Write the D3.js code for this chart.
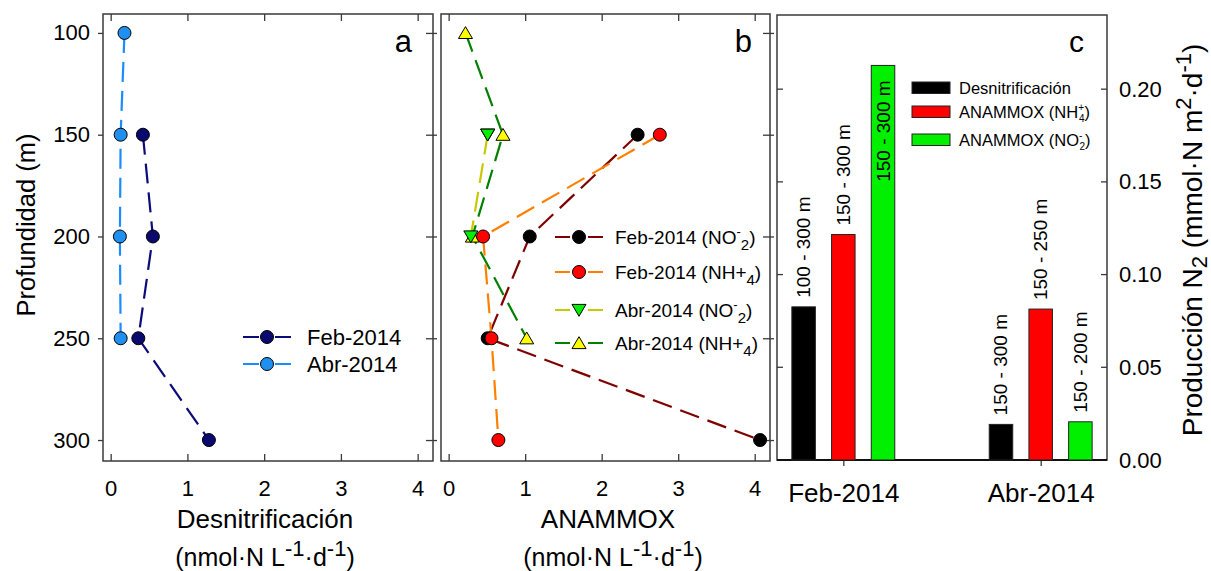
<!DOCTYPE html>
<html>
<head>
<meta charset="utf-8">
<script src="https://cdn.jsdelivr.net/npm/d3@7/dist/d3.min.js"></script>
<style>
  html, body { margin: 0; padding: 0; background: #fff; }
  svg { display: block; font-family: "Liberation Sans", Arial, sans-serif; }
  text { fill: #000; }
</style>
</head>
<body>
<svg id="fig" width="1211" height="571"></svg>
<script>
// ---- Depth profiles (m) ----
const profDepths = [100, 150, 200, 250, 300];

// Panel a: denitrification rates (nmol N L-1 d-1)
const desnFebDepths = [150, 200, 250, 300];
const desnFeb = [0.42, 0.55, 0.36, 1.28];
const desnAbrDepths = [100, 150, 200, 250];
const desnAbr = [0.18, 0.13, 0.12, 0.13];

// Panel b: anammox rates (nmol N L-1 d-1)
const anxFebDepths = [150, 200, 250, 300];
const anxFebNO2 = [2.47, 1.06, 0.51, 4.07];
const anxFebNH4 = [2.76, 0.45, 0.56, 0.65];
const anxAbrNO2Depths = [150, 200];
const anxAbrNO2 = [0.51, 0.29];
const anxAbrNH4Depths = [100, 150, 200, 250];
const anxAbrNH4 = [0.22, 0.71, 0.31, 1.02];

// Panel c: integrated N2 production (mmol N m-2 d-1)
const campaigns = ["Feb-2014", "Abr-2014"];
const procesos = ["desn", "anxNH4", "anxNO2"];
const prodFeb = [0.0826, 0.1216, 0.2128];
const prodAbr = [0.0192, 0.0814, 0.0206];
const rangosFeb = ["100 - 300 m", "150 - 300 m", "150 - 300 m"];
const rangosAbr = ["150 - 300 m", "150 - 250 m", "150 - 200 m"];

const rateTicks = [0, 1, 2, 3, 4];
const prodTicks = [0, 0.05, 0.10, 0.15, 0.20];

const svg = d3.select("#fig");
const FRAME = "#3a3a3a";
const DASH = "20,9";

// shared depth scale for profile panels
const yDepth = d3.scaleLinear().domain([90.7, 310.3]).range([14, 461]);

function profileFrame(x0, x1, xScale, showLeftLabels) {
  const g = svg.append("g");
  g.append("rect").attr("x", x0).attr("y", 14).attr("width", x1 - x0).attr("height", 447)
    .attr("fill", "none").attr("stroke", FRAME).attr("stroke-width", 1.5);
  // x ticks top and bottom (inward)
  g.append("g").attr("transform", "translate(0,461)")
    .call(d3.axisBottom(xScale).tickValues(rateTicks).tickSizeInner(-7).tickSizeOuter(0).tickPadding(19).tickFormat(d3.format("d")))
    .call(a => a.select(".domain").remove())
    .call(a => a.selectAll("line").attr("stroke", FRAME).attr("stroke-width", 1.3))
    .call(a => a.selectAll("text").attr("font-size", 22).attr("font-family", "Liberation Sans, Arial"));
  g.append("g").attr("transform", "translate(0,14)")
    .call(d3.axisTop(xScale).tickValues(rateTicks).tickSizeInner(-7).tickSizeOuter(0).tickFormat(""))
    .call(a => a.select(".domain").remove())
    .call(a => a.selectAll("line").attr("stroke", FRAME).attr("stroke-width", 1.3));
  // y ticks
  g.append("g").attr("transform", `translate(${x1},0)`)
    .call(d3.axisRight(yDepth).tickValues(profDepths).tickSizeInner(-7).tickSizeOuter(0).tickFormat(""))
    .call(a => a.select(".domain").remove())
    .call(a => a.selectAll("line").attr("x2", -7).attr("x1", 4).attr("stroke", FRAME).attr("stroke-width", 1.3));
  if (showLeftLabels) {
    g.append("g").attr("transform", `translate(${x0},0)`)
      .call(d3.axisLeft(yDepth).tickValues(profDepths).tickSizeInner(5).tickSizeOuter(0).tickPadding(8))
      .call(a => a.select(".domain").remove())
      .call(a => a.selectAll("line").attr("stroke", FRAME).attr("stroke-width", 1.3))
      .call(a => a.selectAll("text").attr("font-size", 22).attr("font-family", "Liberation Sans, Arial"));
  }
  return g;
}

function circleMark(g, x, y, fill) {
  g.append("circle").attr("cx", x).attr("cy", y).attr("r", 6.5)
    .attr("fill", fill).attr("stroke", "#000").attr("stroke-width", 1);
}
function triMark(g, x, y, fill, down) {
  const s = 7;
  const pts = down
    ? [[x - s, y - s * 0.8], [x + s, y - s * 0.8], [x, y + s * 0.9]]
    : [[x - s, y + s * 0.8], [x + s, y + s * 0.8], [x, y - s * 0.9]];
  g.append("path").attr("d", "M" + pts.map(p => p.join(",")).join("L") + "Z")
    .attr("fill", fill).attr("stroke", "#000").attr("stroke-width", 1);
}

function drawSeries(g, xScale, depths, vals, lineColor, marker) {
  const pts = depths.map((d, i) => [xScale(vals[i]), yDepth(d)]);
  g.append("path").attr("d", d3.line()(pts)).attr("fill", "none")
    .attr("stroke", lineColor).attr("stroke-width", 2.2).attr("stroke-dasharray", DASH);
  pts.forEach(p => marker(g, p[0], p[1]));
}

// ================= Panel a =================
const xA = d3.scaleLinear().domain([-0.1, 4.2]).range([103, 433]);
const gA = profileFrame(103, 433, xA, true);
const navy = "#0b0b7a", navyFill = "#0a0a6e";
const sky = "#1a8cff", skyFill = "#2090f0";
drawSeries(gA, xA, desnAbrDepths, desnAbr, sky, (g, x, y) => circleMark(g, x, y, skyFill));
drawSeries(gA, xA, desnFebDepths, desnFeb, navy, (g, x, y) => circleMark(g, x, y, navyFill));
gA.append("text").attr("x", 412).attr("y", 52).attr("text-anchor", "end").attr("font-size", 31).text("a");

// legend a
[["Feb-2014", navy, navyFill, 337], ["Abr-2014", sky, skyFill, 364]].forEach(([lab, c, f, y]) => {
  gA.append("line").attr("x1", 243).attr("x2", 291).attr("y1", y).attr("y2", y)
    .attr("stroke", c).attr("stroke-width", 2.2).attr("stroke-dasharray", "16,16");
  circleMark(gA, 267, y, f);
  gA.append("text").attr("x", 307).attr("y", y + 8).attr("font-size", 22).text(lab);
});

// x title a
svg.append("text").attr("x", 265).attr("y", 528).attr("text-anchor", "middle").attr("font-size", 26)
  .text("Desnitrificación");
function unitsLabel(x) {
  const t = svg.append("text").attr("x", x).attr("y", 566).attr("text-anchor", "middle").attr("font-size", 25);
  t.append("tspan").text("(nmol·N L");
  t.append("tspan").attr("dy", -10).attr("font-size", 22).text("-1");
  t.append("tspan").attr("dy", 10).text("·d");
  t.append("tspan").attr("dy", -10).attr("font-size", 22).text("-1");
  t.append("tspan").attr("dy", 10).text(")");
}
unitsLabel(265);

// y title
svg.append("text").attr("transform", "translate(35,225) rotate(-90)").attr("text-anchor", "middle")
  .attr("font-size", 25.5).text("Profundidad (m)");

// ================= Panel b =================
const xB = d3.scaleLinear().domain([-0.1, 4.2]).range([441, 770]);
const gB = profileFrame(441, 770, xB, false);
const dred = "#7f0000", orange = "#ff8000", olive = "#c8c800", green = "#008000";
drawSeries(gB, xB, anxAbrNH4Depths, anxAbrNH4, green, (g, x, y) => triMark(g, x, y, "#ffff00", false));
drawSeries(gB, xB, anxAbrNO2Depths, anxAbrNO2, olive, (g, x, y) => triMark(g, x, y, "#00ee00", true));
drawSeries(gB, xB, anxFebDepths, anxFebNO2, dred, (g, x, y) => circleMark(g, x, y, "#000"));
drawSeries(gB, xB, anxFebDepths, anxFebNH4, orange, (g, x, y) => circleMark(g, x, y, "#ff0000"));
// Abr NO2 marker at 150 m redrawn on top so the down-triangle stays visible
triMark(gB, xB(anxAbrNO2[0]), yDepth(anxAbrNO2Depths[0]), "#00ee00", true);
gB.append("text").attr("x", 752).attr("y", 52).attr("text-anchor", "end").attr("font-size", 31).text("b");

// legend b
const legB = [
  ["Feb-2014 (NO", "-", "2", dred, g => (x, y) => circleMark(g, x, y, "#000"), 237],
  ["Feb-2014 (NH+", null, "4", orange, g => (x, y) => circleMark(g, x, y, "#ff0000"), 272],
  ["Abr-2014 (NO", "-", "2", olive, g => (x, y) => triMark(g, x, y, "#00ee00", true), 310],
  ["Abr-2014 (NH+", null, "4", green, g => (x, y) => triMark(g, x, y, "#ffff00", false), 343]
];
legB.forEach(([lab, sup, sub, c, mk, y]) => {
  gB.append("line").attr("x1", 555).attr("x2", 603).attr("y1", y).attr("y2", y)
    .attr("stroke", c).attr("stroke-width", 2.2);
  gB.append("rect").attr("x", 570).attr("y", y - 3).attr("width", 18).attr("height", 6).attr("fill", "#fff");
  mk(gB)(579, y);
  const t = gB.append("text").attr("x", 615).attr("y", y + 7).attr("font-size", 19);
  t.append("tspan").text(lab);
  if (sup) {
    t.append("tspan").attr("dy", -8).attr("font-size", 13).text(sup);
    t.append("tspan").attr("dy", 14).attr("font-size", 15).text(sub);
  } else {
    t.append("tspan").attr("dy", 6).attr("font-size", 15).text(sub);
  }
  t.append("tspan").attr("dy", -6).text(")");
});

// x title b
svg.append("text").attr("x", 608).attr("y", 528).attr("text-anchor", "middle").attr("font-size", 26).text("ANAMMOX");
unitsLabel(613);

// ================= Panel c =================
const yC = d3.scaleLinear().domain([0, 0.24]).range([460, 15]);
const xC = d3.scalePoint().domain(campaigns).range([777, 1107]).padding(0.336);
const xS = d3.scaleBand().domain(procesos).range([-59.55, 59.55]).paddingInner(0.408).paddingOuter(0.204);
const barColors = { desn: "#000000", anxNH4: "#ff0000", anxNO2: "#00f000" };

const gC = svg.append("g");
gC.append("rect").attr("x", 777).attr("y", 15).attr("width", 330).attr("height", 445)
  .attr("fill", "none").attr("stroke", FRAME).attr("stroke-width", 1.5);
gC.append("g").attr("transform", "translate(1107,0)")
  .call(d3.axisRight(yC).tickValues(prodTicks).tickSizeInner(0).tickSizeOuter(0).tickPadding(12).tickFormat(d3.format(".2f")))
  .call(a => a.select(".domain").remove())
  .call(a => a.selectAll("line").remove())
  .call(a => a.selectAll("text").attr("font-size", 22).attr("font-family", "Liberation Sans, Arial"));
// inward ticks on both sides
prodTicks.slice(1).forEach(v => {
  gC.append("line").attr("x1", 1101).attr("x2", 1107).attr("y1", yC(v)).attr("y2", yC(v)).attr("stroke", FRAME).attr("stroke-width", 1.3);
  gC.append("line").attr("x1", 777).attr("x2", 783).attr("y1", yC(v)).attr("y2", yC(v)).attr("stroke", FRAME).attr("stroke-width", 1.3);
});
gC.append("g").attr("transform", "translate(0,460)")
  .call(d3.axisBottom(xC).tickSizeInner(6).tickSizeOuter(0).tickPadding(18))
  .call(a => a.select(".domain").remove())
  .call(a => a.selectAll("line").attr("stroke", FRAME).attr("stroke-width", 1.3))
  .call(a => a.selectAll("text").attr("font-size", 26).attr("font-family", "Liberation Sans, Arial"));
gC.append("line").attr("x1", 777).attr("x2", 1107).attr("y1", 460).attr("y2", 460).attr("stroke", "#111").attr("stroke-width", 1.8);

const barData = [];
campaigns.forEach((c, ci) => {
  const vals = ci === 0 ? prodFeb : prodAbr;
  const rng = ci === 0 ? rangosFeb : rangosAbr;
  procesos.forEach((p, pi) => barData.push({ c, p, v: vals[pi], r: rng[pi] }));
});
gC.selectAll("rect.bar").data(barData).join("rect").attr("class", "bar")
  .attr("x", d => xC(d.c) + xS(d.p))
  .attr("y", d => yC(d.v))
  .attr("width", xS.bandwidth())
  .attr("height", d => yC(0) - yC(d.v))
  .attr("fill", d => barColors[d.p])
  .attr("stroke", "#222").attr("stroke-width", 1);

// depth-range labels; the tallest bar carries its label inside the top of the bar
gC.selectAll("text.rng").data(barData).join("text").attr("class", "rng")
  .attr("transform", d => {
    const cx = xC(d.c) + xS(d.p) + xS.bandwidth() / 2;
    const inside = d.v > 0.2;
    const y = inside ? yC(d.v) + 15 : yC(d.v) - 9;
    return `translate(${cx},${y}) rotate(-90)`;
  })
  .attr("text-anchor", d => d.v > 0.2 ? "end" : "start")
  .attr("dominant-baseline", "central")
  .attr("font-size", 19)
  .text(d => d.r);

gC.append("text").attr("x", 1084).attr("y", 52).attr("text-anchor", "end").attr("font-size", 30).text("c");

// legend c
const legC = [
  ["desn", 88, [["Desnitrificación"]]],
  ["anxNH4", 112, [["ANAMMOX (NH"], ["+", -7, 10], ["4", 11, 10, -5], [")", -4]]],
  ["anxNO2", 140, [["ANAMMOX (NO"], ["-", -7, 10], ["2", 11, 10, -3], [")", -4]]]
];
legC.forEach(([p, y, parts]) => {
  gC.append("rect").attr("x", 912).attr("y", y - 6).attr("width", 38).attr("height", 11.5)
    .attr("fill", barColors[p]).attr("stroke", "#222").attr("stroke-width", 1);
  const t = gC.append("text").attr("x", 959).attr("y", y + 6).attr("font-size", 16.5);
  parts.forEach(([s, dy, fs, dx]) => {
    const ts = t.append("tspan").text(s);
    if (dy) ts.attr("dy", dy);
    if (fs) ts.attr("font-size", fs);
    if (dx) ts.attr("dx", dx);
  });
});

// right title
const tR = svg.append("text").attr("transform", "translate(1202,240) rotate(-90)")
  .attr("text-anchor", "middle").attr("font-size", 28);
tR.append("tspan").text("Producción N");
tR.append("tspan").attr("dy", 5).attr("font-size", 22).text("2");
tR.append("tspan").attr("dy", -5).text(" (mmol·N m");
tR.append("tspan").attr("dy", -11).attr("font-size", 22).text("2");
tR.append("tspan").attr("dy", 11).text("·d");
tR.append("tspan").attr("dy", -11).attr("font-size", 22).text("-1");
tR.append("tspan").attr("dy", 11).text(")");
</script>
</body>
</html>
